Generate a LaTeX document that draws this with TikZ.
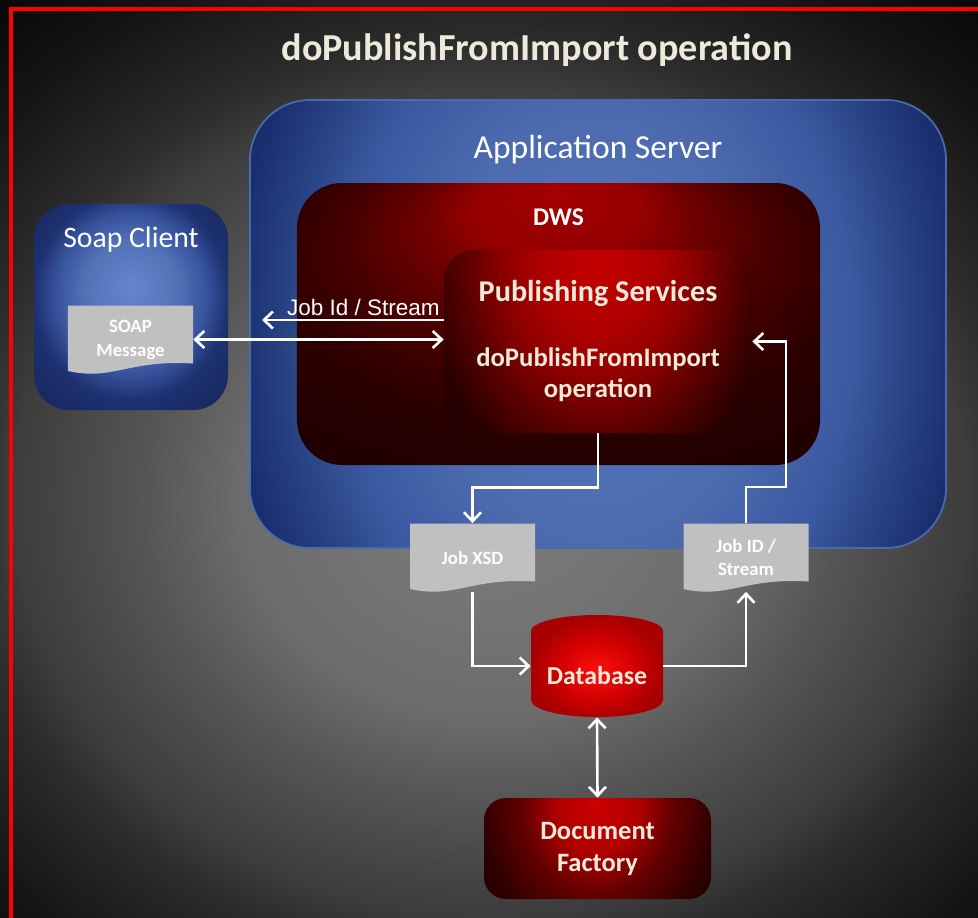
\documentclass[tikz,border=0pt]{standalone}
\usepackage{fontspec}
\setmainfont{Carlito}
\newfontfamily\arialfont{Liberation Sans}
\usetikzlibrary{arrows.meta, positioning, calc}

\definecolor{framered}{HTML}{FF0000}
\definecolor{cream}{HTML}{EEEADA}
\definecolor{docgray}{HTML}{C0C0C0}
\definecolor{appborder}{HTML}{4A6BA8}
\definecolor{bgA}{HTML}{7D7D7D}
\definecolor{bgB}{HTML}{6C6C6C}
\definecolor{bgC}{HTML}{555555}
\definecolor{bgD}{HTML}{3C3C3C}
\definecolor{bgE}{HTML}{2C2C2C}
\definecolor{bgF}{HTML}{141414}
\definecolor{bgG}{HTML}{0A0A0A}
\definecolor{blA}{HTML}{5878C0}
\definecolor{blB}{HTML}{4C6AAE}
\definecolor{blC}{HTML}{3A58A0}
\definecolor{blD}{HTML}{26407F}
\definecolor{blE}{HTML}{1A2E6E}
\definecolor{blF}{HTML}{162866}
\definecolor{clA}{HTML}{6585CC}
\definecolor{clB}{HTML}{5272B8}
\definecolor{clC}{HTML}{34509A}
\definecolor{clD}{HTML}{1E3170}
\definecolor{clE}{HTML}{16265E}
\definecolor{rdA}{HTML}{A50000}
\definecolor{rdB}{HTML}{950000}
\definecolor{rdC}{HTML}{700000}
\definecolor{rdD}{HTML}{480000}
\definecolor{rdE}{HTML}{2A0000}
\definecolor{rdF}{HTML}{1E0000}
\definecolor{psA}{HTML}{C40000}
\definecolor{psB}{HTML}{B00000}
\definecolor{psC}{HTML}{900000}
\definecolor{psD}{HTML}{5A0000}
\definecolor{psE}{HTML}{2A0000}
\definecolor{psF}{HTML}{180000}
\definecolor{dfA}{HTML}{CC0000}
\definecolor{dfB}{HTML}{B00000}
\definecolor{dfC}{HTML}{640000}
\definecolor{dfD}{HTML}{300000}
\definecolor{dfE}{HTML}{1C0000}
\definecolor{dbA}{HTML}{FF1010}
\definecolor{dbB}{HTML}{D00000}
\definecolor{dbC}{HTML}{A80000}

% the shaded path's edge sits at 25bp
\pgfdeclareradialshading{bgshade}{\pgfpoint{0bp}{0bp}}{color(0bp)=(bgA); color(8.4bp)=(bgB); color(11.8bp)=(bgC); color(16.2bp)=(bgD); color(17.9bp)=(bgE); color(22.3bp)=(bgF); color(25bp)=(bgG); color(50bp)=(bgG)}
\pgfdeclareradialshading{appshade}{\pgfpoint{0bp}{0bp}}{color(0bp)=(blA); color(11bp)=(blB); color(17bp)=(blC); color(21bp)=(blD); color(24bp)=(blE); color(50bp)=(blF)}
\pgfdeclareradialshading{clientshade}{\pgfpoint{0bp}{5bp}}{color(0bp)=(clA); color(12bp)=(clB); color(20bp)=(clC); color(25bp)=(clD); color(35bp)=(clE); color(50bp)=(clE)}
\pgfdeclareradialshading{dwsshade}{\pgfpoint{0bp}{24bp}}{color(0bp)=(rdA); color(8bp)=(rdB); color(13bp)=(rdC); color(20bp)=(rdD); color(28bp)=(rdE); color(40bp)=(rdF); color(50bp)=(rdF)}
\pgfdeclareradialshading{psshade}{\pgfpoint{0bp}{0bp}}{color(0bp)=(psA); color(6bp)=(psB); color(10bp)=(psC); color(14.6bp)=(psD); color(19bp)=(psE); color(25bp)=(psF); color(50bp)=(psF)}
\pgfdeclareradialshading{dfshade}{\pgfpoint{0bp}{0bp}}{color(0bp)=(dfA); color(6bp)=(dfB); color(11bp)=(dfC); color(17bp)=(dfD); color(22bp)=(dfE); color(50bp)=(dfE)}
\pgfdeclareradialshading{dbshade}{\pgfpoint{0bp}{-2.5bp}}{color(0bp)=(dbA); color(15bp)=(dbB); color(25bp)=(dbC); color(50bp)=(dbC)}

\tikzset{
  panel/.style={shade, inner sep=0pt},
  appbox/.style={inner sep=0pt, draw=appborder, line width=1pt, rounded corners=12mm,
    path picture={\shade[shading=appshade] ([xshift=-76mm, yshift=98.8mm]path picture bounding box.center)
      rectangle ([xshift=76mm, yshift=-101.2mm]path picture bounding box.center);}},
  clientbox/.style={panel, shading=clientshade, rounded corners=7mm},
  dwsbox/.style={panel, shading=dwsshade, rounded corners=9mm},
  psbox/.style={inner sep=0pt, rounded corners=6mm,
    path picture={\shade[shading=psshade] ([xshift=-46mm, yshift=58.4mm]path picture bounding box.north)
      rectangle ([xshift=46mm, yshift=-61.6mm]path picture bounding box.north);}},
  dfbox/.style={inner sep=0pt, rounded corners=4.4mm, text=cream, align=center,
    font=\fontsize{15.1}{18.2}\selectfont\bfseries,
    path picture={\shade[shading=dfshade] ([xshift=-34mm, yshift=38.6mm]path picture bounding box.north)
      rectangle ([xshift=34mm, yshift=-41.4mm]path picture bounding box.north);}},
  docshape/.style={inner sep=0pt, minimum width=25mm, minimum height=13.6mm, align=center, text=white,
    font=\fontsize{10.7}{13.6}\selectfont\bfseries,
    path picture={\fill[docgray] (path picture bounding box.south west) ++(0mm,0.5mm)
      -- ++(0mm,13.1mm) -- ++(25mm,0mm) -- ++(0mm,-11.6mm)
      .. controls +(-13mm,0.8mm) and +(9mm,-2mm) .. ++(-25mm,-1.5mm) -- cycle;}},
  dbshape/.style={inner sep=0pt, minimum width=26.4mm, minimum height=20.4mm,
    path picture={\shade[shading=dbshade] (path picture bounding box.north west) ++(0mm,-3.2mm)
      arc[start angle=180, end angle=0, x radius=13.2mm, y radius=3.2mm] -- ++(0mm,-13.8mm)
      arc[start angle=0, end angle=-180, x radius=13.2mm, y radius=3.4mm] -- cycle;}},
  titletext/.style={text=cream, font=\fontsize{21.7}{26}\selectfont\bfseries},
  boxlabel/.style={text=white, inner sep=0pt},
  flowarrow/.style={draw=white, line width=1.5pt, -{Straight Barb[length=1.8mm, width=3.4mm]}},
  flowboth/.style={flowarrow, {Straight Barb[length=1.8mm, width=3.4mm]}-{Straight Barb[length=1.8mm, width=3.4mm]}},
}

\begin{document}
\begin{tikzpicture}[x=0.2mm, y=-0.2mm]
\useasboundingbox (0,0) rectangle (978,917);

% background and frame
\shade[shading=bgshade] (-250,-143) rectangle (1230,1143);
\draw[framered, line width=0.85mm] (11,9) rectangle (1000,940);

\node[titletext] (title) at (537,50) {doPublishFromImport operation};

% containers
\node[appbox, minimum width=139.2mm, minimum height=89.6mm] (appsrv) at (598,324) {};
\node[boxlabel, font=\fontsize{19.1}{23}\selectfont] (appsrvlabel) at ([yshift=-10mm]appsrv.north) {Application Server};

\node[clientbox, minimum width=38.8mm, minimum height=41.2mm] (client) at (131,307) {};
\node[boxlabel, font=\fontsize{16.9}{20}\selectfont] (clientlabel) at ([yshift=-7.2mm]client.north) {Soap Client};

\node[dwsbox, minimum width=104.6mm, minimum height=56.4mm] (dws) at (558.5,324) {};
\node[boxlabel, font=\fontsize{14.5}{17}\selectfont\bfseries] (dwslabel) at ([yshift=-7mm]dws.north) {DWS};

\node[psbox, minimum width=61.6mm, minimum height=36.6mm] (pubsvc) at (598,341.5) {};
\node[boxlabel, text=cream, font=\fontsize{17.2}{20}\selectfont\bfseries] (pubsvclabel) at ([yshift=-8.8mm]pubsvc.north) {Publishing Services};
\node[boxlabel, text=cream, align=center, font=\fontsize{15.2}{17.6}\selectfont\bfseries] (pubsvcop) at ([yshift=-25.1mm]pubsvc.north) {doPublishFromImport\\operation};

% documents and stores
\node[docshape] (soapmsg) at (130.5,339.5) {SOAP\\Message};
\node[docshape] (jobxsd) at (472.5,557.5) {Job XSD};
\node[docshape] (jobid) at (746,557.5) {Job ID /\\Stream};

\node[dbshape] (db) at (597,666) {};
\node[boxlabel, text=cream, font=\fontsize{14.7}{17}\selectfont\bfseries] (dblabel) at ([yshift=-2mm]db.center) {Database};

\node[dfbox, minimum width=45.4mm, minimum height=20.2mm] (docfac) at (597.5,848.5) {Document\\Factory};

% connectors
\coordinate (jobidtip) at (262,320);
\draw[flowarrow] (pubsvc.west |- jobidtip) -- (jobidtip)
  node[pos=0, anchor=south east, inner sep=1.5pt, text=white, font=\arialfont\fontsize{12.8}{15}\selectfont] {Job Id / Stream};
\draw[flowboth] (soapmsg.east) -- (soapmsg.east -| pubsvc.west);
\draw[flowarrow] (pubsvc.south) -- ++(0,54) -| (jobxsd.north);
\draw[flowarrow] (jobxsd.south) |- (db.west);
\draw[flowarrow] (db.east) -| (jobid.south);
\draw[flowarrow] (jobid.north) -- ++(0,-36) -- ++(40,0) |- (pubsvc.east);
\draw[flowboth] (db.south) -- (docfac.north);
\end{tikzpicture}
\end{document}
